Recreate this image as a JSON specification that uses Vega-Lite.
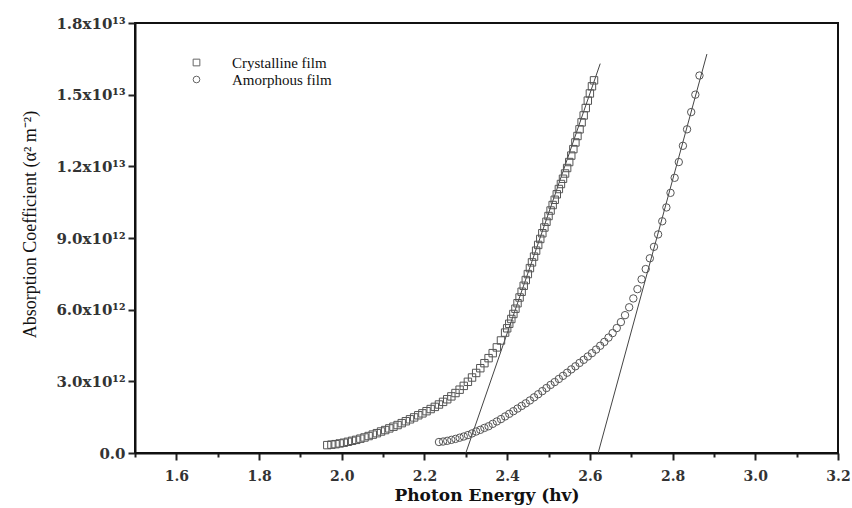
{
  "$schema": "https://vega.github.io/schema/vega-lite/v6.json",
  "autosize": {"type": "none"},
  "width": 703,
  "height": 430,
  "padding": {"left": 135, "top": 23, "right": 14, "bottom": 55},
  "background": "white",
  "config": {
    "view": {"stroke": "#111", "strokeWidth": 2},
    "font": "DejaVu Serif"
  },
  "datasets": {
    "pts": [
      {"s": "Crystalline film", "x": 1.965, "y": 0.33e12},
      {"s": "Crystalline film", "x": 1.975, "y": 0.35e12},
      {"s": "Crystalline film", "x": 1.985, "y": 0.37e12},
      {"s": "Crystalline film", "x": 1.995, "y": 0.40e12},
      {"s": "Crystalline film", "x": 2.005, "y": 0.43e12},
      {"s": "Crystalline film", "x": 2.015, "y": 0.47e12},
      {"s": "Crystalline film", "x": 2.025, "y": 0.51e12},
      {"s": "Crystalline film", "x": 2.035, "y": 0.55e12},
      {"s": "Crystalline film", "x": 2.045, "y": 0.60e12},
      {"s": "Crystalline film", "x": 2.055, "y": 0.65e12},
      {"s": "Crystalline film", "x": 2.065, "y": 0.71e12},
      {"s": "Crystalline film", "x": 2.075, "y": 0.77e12},
      {"s": "Crystalline film", "x": 2.085, "y": 0.83e12},
      {"s": "Crystalline film", "x": 2.095, "y": 0.90e12},
      {"s": "Crystalline film", "x": 2.105, "y": 0.96e12},
      {"s": "Crystalline film", "x": 2.115, "y": 1.03e12},
      {"s": "Crystalline film", "x": 2.125, "y": 1.10e12},
      {"s": "Crystalline film", "x": 2.135, "y": 1.17e12},
      {"s": "Crystalline film", "x": 2.145, "y": 1.25e12},
      {"s": "Crystalline film", "x": 2.155, "y": 1.33e12},
      {"s": "Crystalline film", "x": 2.165, "y": 1.41e12},
      {"s": "Crystalline film", "x": 2.175, "y": 1.49e12},
      {"s": "Crystalline film", "x": 2.185, "y": 1.58e12},
      {"s": "Crystalline film", "x": 2.195, "y": 1.66e12},
      {"s": "Crystalline film", "x": 2.205, "y": 1.75e12},
      {"s": "Crystalline film", "x": 2.215, "y": 1.84e12},
      {"s": "Crystalline film", "x": 2.225, "y": 1.93e12},
      {"s": "Crystalline film", "x": 2.235, "y": 2.03e12},
      {"s": "Crystalline film", "x": 2.245, "y": 2.14e12},
      {"s": "Crystalline film", "x": 2.255, "y": 2.25e12},
      {"s": "Crystalline film", "x": 2.265, "y": 2.37e12},
      {"s": "Crystalline film", "x": 2.275, "y": 2.51e12},
      {"s": "Crystalline film", "x": 2.285, "y": 2.65e12},
      {"s": "Crystalline film", "x": 2.295, "y": 2.81e12},
      {"s": "Crystalline film", "x": 2.305, "y": 2.98e12},
      {"s": "Crystalline film", "x": 2.315, "y": 3.16e12},
      {"s": "Crystalline film", "x": 2.325, "y": 3.35e12},
      {"s": "Crystalline film", "x": 2.335, "y": 3.55e12},
      {"s": "Crystalline film", "x": 2.345, "y": 3.76e12},
      {"s": "Crystalline film", "x": 2.355, "y": 3.97e12},
      {"s": "Crystalline film", "x": 2.365, "y": 4.18e12},
      {"s": "Crystalline film", "x": 2.375, "y": 4.42e12},
      {"s": "Crystalline film", "x": 2.385, "y": 4.71e12},
      {"s": "Crystalline film", "x": 2.395, "y": 5.04e12},
      {"s": "Crystalline film", "x": 2.400, "y": 5.22e12},
      {"s": "Crystalline film", "x": 2.405, "y": 5.41e12},
      {"s": "Crystalline film", "x": 2.410, "y": 5.61e12},
      {"s": "Crystalline film", "x": 2.415, "y": 5.82e12},
      {"s": "Crystalline film", "x": 2.420, "y": 6.04e12},
      {"s": "Crystalline film", "x": 2.425, "y": 6.27e12},
      {"s": "Crystalline film", "x": 2.430, "y": 6.51e12},
      {"s": "Crystalline film", "x": 2.435, "y": 6.75e12},
      {"s": "Crystalline film", "x": 2.440, "y": 7.00e12},
      {"s": "Crystalline film", "x": 2.445, "y": 7.24e12},
      {"s": "Crystalline film", "x": 2.450, "y": 7.49e12},
      {"s": "Crystalline film", "x": 2.455, "y": 7.74e12},
      {"s": "Crystalline film", "x": 2.460, "y": 7.98e12},
      {"s": "Crystalline film", "x": 2.465, "y": 8.22e12},
      {"s": "Crystalline film", "x": 2.470, "y": 8.47e12},
      {"s": "Crystalline film", "x": 2.475, "y": 8.71e12},
      {"s": "Crystalline film", "x": 2.480, "y": 8.96e12},
      {"s": "Crystalline film", "x": 2.485, "y": 9.20e12},
      {"s": "Crystalline film", "x": 2.490, "y": 9.44e12},
      {"s": "Crystalline film", "x": 2.495, "y": 9.68e12},
      {"s": "Crystalline film", "x": 2.500, "y": 9.92e12},
      {"s": "Crystalline film", "x": 2.505, "y": 10.15e12},
      {"s": "Crystalline film", "x": 2.510, "y": 10.38e12},
      {"s": "Crystalline film", "x": 2.515, "y": 10.60e12},
      {"s": "Crystalline film", "x": 2.520, "y": 10.83e12},
      {"s": "Crystalline film", "x": 2.525, "y": 11.05e12},
      {"s": "Crystalline film", "x": 2.530, "y": 11.26e12},
      {"s": "Crystalline film", "x": 2.535, "y": 11.48e12},
      {"s": "Crystalline film", "x": 2.540, "y": 11.70e12},
      {"s": "Crystalline film", "x": 2.545, "y": 11.93e12},
      {"s": "Crystalline film", "x": 2.550, "y": 12.18e12},
      {"s": "Crystalline film", "x": 2.555, "y": 12.45e12},
      {"s": "Crystalline film", "x": 2.560, "y": 12.72e12},
      {"s": "Crystalline film", "x": 2.565, "y": 13.00e12},
      {"s": "Crystalline film", "x": 2.570, "y": 13.27e12},
      {"s": "Crystalline film", "x": 2.575, "y": 13.55e12},
      {"s": "Crystalline film", "x": 2.580, "y": 13.84e12},
      {"s": "Crystalline film", "x": 2.585, "y": 14.13e12},
      {"s": "Crystalline film", "x": 2.590, "y": 14.44e12},
      {"s": "Crystalline film", "x": 2.595, "y": 14.75e12},
      {"s": "Crystalline film", "x": 2.600, "y": 15.05e12},
      {"s": "Crystalline film", "x": 2.605, "y": 15.35e12},
      {"s": "Crystalline film", "x": 2.610, "y": 15.60e12},
      {"s": "Amorphous film", "x": 2.235, "y": 0.46e12},
      {"s": "Amorphous film", "x": 2.245, "y": 0.48e12},
      {"s": "Amorphous film", "x": 2.255, "y": 0.51e12},
      {"s": "Amorphous film", "x": 2.265, "y": 0.55e12},
      {"s": "Amorphous film", "x": 2.275, "y": 0.59e12},
      {"s": "Amorphous film", "x": 2.285, "y": 0.64e12},
      {"s": "Amorphous film", "x": 2.295, "y": 0.69e12},
      {"s": "Amorphous film", "x": 2.305, "y": 0.75e12},
      {"s": "Amorphous film", "x": 2.315, "y": 0.82e12},
      {"s": "Amorphous film", "x": 2.325, "y": 0.90e12},
      {"s": "Amorphous film", "x": 2.335, "y": 0.97e12},
      {"s": "Amorphous film", "x": 2.345, "y": 1.05e12},
      {"s": "Amorphous film", "x": 2.355, "y": 1.12e12},
      {"s": "Amorphous film", "x": 2.365, "y": 1.22e12},
      {"s": "Amorphous film", "x": 2.375, "y": 1.32e12},
      {"s": "Amorphous film", "x": 2.385, "y": 1.42e12},
      {"s": "Amorphous film", "x": 2.395, "y": 1.53e12},
      {"s": "Amorphous film", "x": 2.405, "y": 1.64e12},
      {"s": "Amorphous film", "x": 2.415, "y": 1.75e12},
      {"s": "Amorphous film", "x": 2.425, "y": 1.86e12},
      {"s": "Amorphous film", "x": 2.435, "y": 1.97e12},
      {"s": "Amorphous film", "x": 2.445, "y": 2.08e12},
      {"s": "Amorphous film", "x": 2.455, "y": 2.20e12},
      {"s": "Amorphous film", "x": 2.465, "y": 2.33e12},
      {"s": "Amorphous film", "x": 2.475, "y": 2.46e12},
      {"s": "Amorphous film", "x": 2.485, "y": 2.59e12},
      {"s": "Amorphous film", "x": 2.495, "y": 2.72e12},
      {"s": "Amorphous film", "x": 2.505, "y": 2.85e12},
      {"s": "Amorphous film", "x": 2.515, "y": 2.97e12},
      {"s": "Amorphous film", "x": 2.525, "y": 3.10e12},
      {"s": "Amorphous film", "x": 2.535, "y": 3.23e12},
      {"s": "Amorphous film", "x": 2.545, "y": 3.36e12},
      {"s": "Amorphous film", "x": 2.555, "y": 3.50e12},
      {"s": "Amorphous film", "x": 2.565, "y": 3.63e12},
      {"s": "Amorphous film", "x": 2.575, "y": 3.77e12},
      {"s": "Amorphous film", "x": 2.585, "y": 3.90e12},
      {"s": "Amorphous film", "x": 2.595, "y": 4.04e12},
      {"s": "Amorphous film", "x": 2.605, "y": 4.18e12},
      {"s": "Amorphous film", "x": 2.615, "y": 4.33e12},
      {"s": "Amorphous film", "x": 2.625, "y": 4.49e12},
      {"s": "Amorphous film", "x": 2.635, "y": 4.65e12},
      {"s": "Amorphous film", "x": 2.645, "y": 4.83e12},
      {"s": "Amorphous film", "x": 2.655, "y": 5.02e12},
      {"s": "Amorphous film", "x": 2.665, "y": 5.23e12},
      {"s": "Amorphous film", "x": 2.675, "y": 5.48e12},
      {"s": "Amorphous film", "x": 2.685, "y": 5.77e12},
      {"s": "Amorphous film", "x": 2.695, "y": 6.10e12},
      {"s": "Amorphous film", "x": 2.705, "y": 6.47e12},
      {"s": "Amorphous film", "x": 2.715, "y": 6.86e12},
      {"s": "Amorphous film", "x": 2.725, "y": 7.27e12},
      {"s": "Amorphous film", "x": 2.735, "y": 7.70e12},
      {"s": "Amorphous film", "x": 2.745, "y": 8.15e12},
      {"s": "Amorphous film", "x": 2.755, "y": 8.63e12},
      {"s": "Amorphous film", "x": 2.765, "y": 9.15e12},
      {"s": "Amorphous film", "x": 2.775, "y": 9.70e12},
      {"s": "Amorphous film", "x": 2.785, "y": 10.28e12},
      {"s": "Amorphous film", "x": 2.795, "y": 10.89e12},
      {"s": "Amorphous film", "x": 2.805, "y": 11.52e12},
      {"s": "Amorphous film", "x": 2.815, "y": 12.18e12},
      {"s": "Amorphous film", "x": 2.825, "y": 12.86e12},
      {"s": "Amorphous film", "x": 2.835, "y": 13.55e12},
      {"s": "Amorphous film", "x": 2.845, "y": 14.27e12},
      {"s": "Amorphous film", "x": 2.855, "y": 15.00e12},
      {"s": "Amorphous film", "x": 2.865, "y": 15.80e12}
    ],
    "fits": [
      {"s": "Crystalline film", "x": 2.30, "y": 0},
      {"s": "Crystalline film", "x": 2.625, "y": 16.3e12},
      {"s": "Amorphous film", "x": 2.62, "y": 0},
      {"s": "Amorphous film", "x": 2.883, "y": 16.7e12}
    ]
  },
  "layer": [
    {
      "data": {"name": "fits"},
      "mark": {"type": "line", "color": "#444", "strokeWidth": 1},
      "encoding": {
        "x": {"field": "x", "type": "quantitative"},
        "y": {"field": "y", "type": "quantitative"},
        "detail": {"field": "s"}
      }
    },
    {
      "data": {"name": "pts"},
      "mark": {"type": "point", "filled": false, "color": "#555", "strokeWidth": 1, "size": 55, "opacity": 1},
      "encoding": {
        "x": {
          "field": "x", "type": "quantitative",
          "scale": {"domain": [1.5, 3.2], "nice": false, "zero": false},
          "axis": {
            "title": "Photon Energy (hv)",
            "values": [1.5, 1.6, 1.7, 1.8, 1.9, 2.0, 2.1, 2.2, 2.3, 2.4, 2.5, 2.6, 2.7, 2.8, 2.9, 3.0, 3.1, 3.2],
            "labelExpr": "(round(datum.value*10) % 2 == 0) ? format(datum.value, '.1f') : ''",
            "tickSize": {"condition": {"test": "round(datum.value*10) % 2 == 1", "value": 4}, "value": 7},
            "tickColor": "#222",
            "tickWidth": 2,
            "domainColor": "#111",
            "domainWidth": 2,
            "grid": false,
            "labelFont": "DejaVu Serif",
            "labelFontSize": 14,
            "labelFontWeight": "bold",
            "labelColor": "#333",
            "labelPadding": 9,
            "labelFlush": false,
            "labelOverlap": false,
            "titleFont": "DejaVu Serif",
            "titleFontSize": 17,
            "titleFontWeight": "bold",
            "titleColor": "#111",
            "titlePadding": 4
          }
        },
        "y": {
          "field": "y", "type": "quantitative",
          "scale": {"domain": [0, 18e12], "nice": false},
          "axis": {
            "title": "Absorption Coefficient (α² m⁻²)",
            "values": [0, 1.5e12, 3e12, 4.5e12, 6e12, 7.5e12, 9e12, 10.5e12, 12e12, 13.5e12, 15e12, 16.5e12, 18e12],
            "labelExpr": "datum.value == 0 ? '0.0' : (datum.value % 3e12 != 0 ? '' : (datum.value >= 1e13 ? format(datum.value/1e13, '.1f') + 'x10¹³' : format(datum.value/1e12, '.1f') + 'x10¹²'))",
            "tickSize": {"condition": {"test": "datum.value % 3e12 != 0", "value": 4}, "value": 7},
            "tickColor": "#222",
            "tickWidth": 2,
            "domainColor": "#111",
            "domainWidth": 2,
            "grid": false,
            "labelFont": "DejaVu Serif",
            "labelFontSize": 15,
            "labelFontWeight": "bold",
            "labelColor": "#333",
            "labelPadding": 3,
            "labelFlush": false,
            "labelOverlap": false,
            "titleFont": "Liberation Serif",
            "titleFontSize": 18,
            "titleFontWeight": "normal",
            "titleColor": "#111",
            "titleY": 201,
            "titlePadding": 16
          }
        },
        "shape": {
          "field": "s", "type": "nominal",
          "scale": {"domain": ["Crystalline film", "Amorphous film"], "range": ["square", "circle"]},
          "legend": {
            "title": null,
            "orient": "none",
            "legendX": 54,
            "legendY": 32,
            "symbolSize": 45,
            "symbolStrokeColor": "#666",
            "symbolStrokeWidth": 1,
            "labelFont": "Liberation Serif",
            "labelFontSize": 15,
            "labelColor": "#111",
            "labelOffset": 28,
            "rowPadding": 1
          }
        }
      }
    }
  ]
}
